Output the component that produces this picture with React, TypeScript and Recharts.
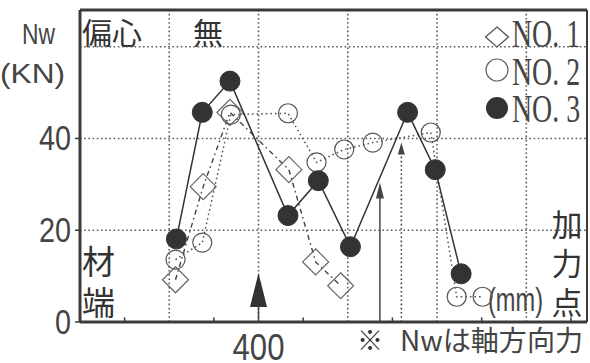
import React from 'react';
import {
  ComposedChart,
  Line,
  XAxis,
  YAxis,
  ReferenceLine,
  ReferenceDot,
  Customized,
} from 'recharts';

// ---- data (positions along the member in mm, axial force Nw in kN) ----
const no1X = [307, 338, 368, 434, 464, 492];
const no1Y = [9.2, 29.5, 45.7, 33.2, 13.1, 7.9];
const no2X = [307, 337, 369, 433, 465, 496, 528, 593, 622, 651];
const no2Y = [13.6, 17.3, 45.2, 45.5, 34.8, 37.6, 39.1, 41.3, 5.5, 5.5];
const no3X = [308, 337, 368, 433, 467, 503, 567, 598, 627];
const no3Y = [18.1, 45.7, 52.5, 23.2, 30.8, 16.4, 45.7, 33.2, 10.5];

const yTicks = [0, 20, 40];
const xTicks = [400];
const gridXValues = [300, 400, 500, 600, 700];
const gridYValues = [20, 40, 60];
const minorXTicks = [250, 350, 450, 550, 650, 750];
const xDomain = [200, 768];
const yDomain = [0, 68];

// loading-point arrows: position and tip height (kN units)
const arrowX = [400, 536, 560];
const arrowTip = [10.7, 30.4, 39.1];
const arrowKind = ['bold', 'thin', 'dotted'];

const seriesNames = ['NO. 1', 'NO. 2', 'NO. 3'];

const zip = (xs: number[], ys: number[]) => xs.map((x, i) => ({ x, y: ys[i] }));
const d1 = zip(no1X, no1Y);
const d2 = zip(no2X, no2Y);
const d3 = zip(no3X, no3Y);

const INK = '#3a3a3a';
const GRID = '#5a5a5a';
const CJK = '"Noto Sans CJK JP", "Noto Sans", sans-serif';
const NUM = '"Liberation Sans", Arial, sans-serif';
const SERIF = '"Liberation Serif", "DejaVu Serif", serif';

const Diamond = (props: any) => {
  const { cx, cy, key } = props;
  if (cx == null || cy == null) return <g key={key} />;
  const h = 13;
  return (
    <path
      key={key}
      d={`M${cx},${cy - h} L${cx + h},${cy} L${cx},${cy + h} L${cx - h},${cy} Z`}
      fill="none"
      stroke="#666"
      strokeWidth={1.2}
    />
  );
};

const OpenCircle = (props: any) => {
  const { cx, cy, key } = props;
  if (cx == null || cy == null) return <g key={key} />;
  return <circle key={key} cx={cx} cy={cy} r={9.5} fill="none" stroke="#555" strokeWidth={1.2} />;
};

const FilledCircle = (props: any) => {
  const { cx, cy, key } = props;
  if (cx == null || cy == null) return <g key={key} />;
  return <circle key={key} cx={cx} cy={cy} r={10} fill="#333" stroke="#333" />;
};

const YTick = (props: any) => {
  const { x, y, payload } = props;
  const s = String(payload.value);
  return (
    <text
      x={x - 2}
      y={y + 12}
      textAnchor="end"
      fontFamily={NUM}
      fontSize={35}
      fill="#444"
      textLength={s.length * 16}
      lengthAdjust="spacingAndGlyphs"
    >
      {s}
    </text>
  );
};

const XTick = (props: any) => {
  const { x, y, payload } = props;
  const s = String(payload.value);
  return (
    <text
      x={x}
      y={y + 30}
      textAnchor="middle"
      fontFamily={NUM}
      fontSize={36}
      fill="#444"
      textLength={s.length * 17.3}
      lengthAdjust="spacingAndGlyphs"
    >
      {s}
    </text>
  );
};

const ArrowHead = (kind: string) => (props: any) => {
  const { cx, cy } = props;
  if (cx == null || cy == null) return <g />;
  if (kind === 'bold') {
    return <path d={`M${cx},${cy} L${cx + 8.5},${cy + 34} L${cx - 8.5},${cy + 34} Z`} fill="#333" />;
  }
  if (kind === 'thin') {
    return <path d={`M${cx},${cy} L${cx + 4},${cy + 16} L${cx - 4},${cy + 16} Z`} fill="#444" />;
  }
  return <path d={`M${cx},${cy} L${cx + 3.5},${cy + 12} L${cx - 3.5},${cy + 12} Z`} fill="#444" />;
};

const Annotations = () => (
  <g>
    {/* y-axis title */}
    <text x={55} y={44} textAnchor="end" fontFamily={NUM} fontSize={30} fill="#444" textLength={33} lengthAdjust="spacingAndGlyphs">
      Nw
    </text>
    <text x={65} y={83} textAnchor="end" fontFamily={NUM} fontSize={28} fill="#444" textLength={65} lengthAdjust="spacingAndGlyphs">
      (KN)
    </text>
    {/* title in plot */}
    <text x={82} y={44} fontFamily={CJK} fontSize={30} fill="#333">
      偏心
    </text>
    <text x={193} y={44} fontFamily={CJK} fontSize={30} fill="#333">
      無
    </text>
    {/* legend */}
    <path d="M497,27 L508.5,37 L497,47 L485.5,37 Z" fill="none" stroke="#555" strokeWidth={1.3} />
    <circle cx={497} cy={70} r={11} fill="none" stroke="#666" strokeWidth={1.2} />
    <circle cx={497} cy={108} r={11} fill="#333" />
    {seriesNames.map((n, i) => (
      <text
        key={n}
        x={0}
        y={0}
        transform={`translate(512, ${47 + i * 37.5}) scale(0.695, 1)`}
        fontFamily={SERIF}
        fontSize={40}
        fill="#444"
        textLength={98}
        lengthAdjust="spacingAndGlyphs"
      >
        {n}
      </text>
    ))}
    {/* left end label */}
    <text x={82} y={274} fontFamily={CJK} fontSize={33} fill="#333">
      材
    </text>
    <text x={82} y={315} fontFamily={CJK} fontSize={33} fill="#333">
      端
    </text>
    {/* loading point label */}
    <text x={567} y={236} textAnchor="middle" fontFamily={CJK} fontSize={31} fill="#333">
      加
    </text>
    <text x={567} y={275} textAnchor="middle" fontFamily={CJK} fontSize={31} fill="#333">
      力
    </text>
    <text x={567} y={314} textAnchor="middle" fontFamily={CJK} fontSize={31} fill="#333">
      点
    </text>
    <text
      x={0}
      y={0}
      transform="translate(488, 311) scale(0.714, 1)"
      fontFamily={NUM}
      fontSize={33}
      fill="#444"
      textLength={77}
      lengthAdjust="spacingAndGlyphs"
    >
      (mm)
    </text>
    {/* note */}
    <text x={357} y={350} fontFamily={CJK} fontSize={26} fill="#333">
      ※
    </text>
    <text x={400} y={351} fontFamily={CJK} fontSize={28} fill="#444" textLength={183} lengthAdjust="spacingAndGlyphs">
      Nwは軸方向力
    </text>
  </g>
);

export default function App() {
  return (
    <div style={{ position: 'absolute', left: 0, top: 0, width: 590, height: 363, background: '#fff' }}>
      <ComposedChart width={590} height={363} margin={{ top: 10, right: 3, left: 0, bottom: 0 }}>
        <XAxis
          type="number"
          dataKey="x"
          domain={xDomain}
          ticks={xTicks}
          allowDataOverflow
          height={41}
          axisLine={{ stroke: INK, strokeWidth: 3 }}
          tickLine={false}
          tick={<XTick />}
        />
        <YAxis
          type="number"
          dataKey="y"
          domain={yDomain}
          ticks={yTicks}
          allowDataOverflow
          width={80}
          axisLine={{ stroke: INK, strokeWidth: 3 }}
          tickLine={{ stroke: INK, strokeWidth: 1.5 }}
          tickSize={5}
          tick={<YTick />}
        />
        {gridXValues.map((v) => (
          <ReferenceLine key={'gx' + v} x={v} stroke={GRID} strokeWidth={1.6} strokeDasharray="1.6 2.6" />
        ))}
        {gridYValues.map((v) => (
          <ReferenceLine key={'gy' + v} y={v} stroke={GRID} strokeWidth={1.6} strokeDasharray="1.6 2.6" />
        ))}
        <ReferenceLine y={yDomain[1]} stroke={INK} strokeWidth={3} />
        <ReferenceLine x={xDomain[1]} stroke={INK} strokeWidth={2} />
        {minorXTicks.map((v) => (
          <ReferenceLine
            key={'mt' + v}
            segment={[
              { x: v, y: 0 },
              { x: v, y: 1 },
            ]}
            stroke={INK}
            strokeWidth={1.5}
          />
        ))}
        {arrowX.map((v, i) => (
          <ReferenceLine
            key={'as' + v}
            segment={[
              { x: v, y: 0 },
              { x: v, y: arrowTip[i] - 1 },
            ]}
            stroke="#444"
            strokeWidth={arrowKind[i] === 'dotted' ? 1.6 : 1.5}
            strokeDasharray={arrowKind[i] === 'dotted' ? '1.6 2.6' : undefined}
          />
        ))}
        {arrowX.map((v, i) => (
          <ReferenceDot key={'ah' + v} x={v} y={arrowTip[i]} r={0} shape={ArrowHead(arrowKind[i])} />
        ))}
        <Line
          data={d1}
          dataKey="y"
          type="linear"
          stroke="#444"
          strokeWidth={1.4}
          strokeDasharray="5 3.5 1.6 3.5"
          dot={Diamond}
          activeDot={false}
          isAnimationActive={false}
        />
        <Line
          data={d2}
          dataKey="y"
          type="linear"
          stroke="#555"
          strokeWidth={1.5}
          strokeDasharray="1.6 3"
          dot={OpenCircle}
          activeDot={false}
          isAnimationActive={false}
        />
        <Line
          data={d3}
          dataKey="y"
          type="linear"
          stroke="#333"
          strokeWidth={1.5}
          dot={FilledCircle}
          activeDot={false}
          isAnimationActive={false}
        />
        <Customized component={Annotations} />
      </ComposedChart>
    </div>
  );
}
